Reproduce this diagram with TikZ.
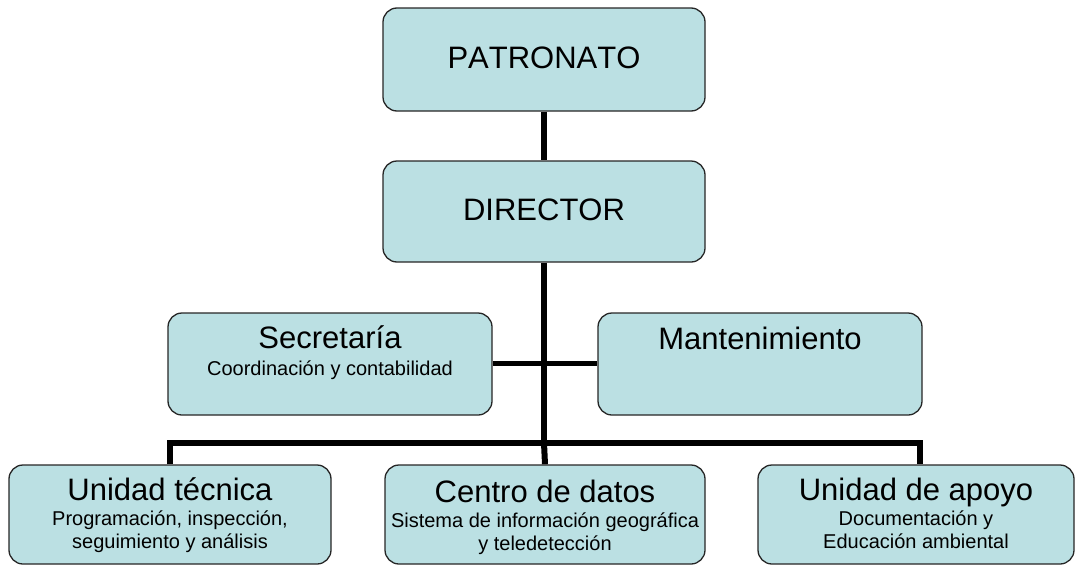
\documentclass[tikz,border=0pt]{standalone}
\usepackage{fontspec}
\setmainfont[Kerning=Off]{Liberation Sans}
\usetikzlibrary{backgrounds}
\definecolor{boxfill}{HTML}{BBE0E3}
\tikzset{
  unit/.style={draw=black!85, line width=1.3pt, fill=boxfill, rounded corners=14pt, inner sep=0pt},
  title/.style={font=\fontsize{31}{36}\selectfont, anchor=base, inner sep=0pt},
  sub/.style={font=\fontsize{20}{23}\selectfont, anchor=base, inner sep=0pt, align=center},
  trunk/.style={line width=6pt},
  side/.style={line width=5pt}
}
\begin{document}
\begin{tikzpicture}[x=1pt,y=-1pt]
\useasboundingbox (0,0) rectangle (1076,565);
% boxes
\node[unit, minimum width=322pt, minimum height=103pt] (pat) at (544,59.5) {};
\node[unit, minimum width=322pt, minimum height=101pt] (dir) at (544,211.5) {};
\node[unit, minimum width=324pt, minimum height=102pt] (sec) at (330,364) {};
\node[unit, minimum width=324pt, minimum height=102pt] (man) at (760,364) {};
\node[unit, minimum width=322pt, minimum height=99pt] (ut) at (170,514.5) {};
\node[unit, minimum width=320pt, minimum height=99pt] (cd) at (545,514.5) {};
\node[unit, minimum width=316pt, minimum height=99pt] (ua) at (916,514.5) {};
% connectors
\coordinate (bar) at (544,443);
\coordinate (barL) at (170,443);
\coordinate (barR) at (920,443);
\coordinate (mid) at (544,363);
\begin{scope}[on background layer]
\draw[trunk] (pat.south) -- (dir.north);
\draw[trunk] (dir.south) -- (bar);
\draw[trunk, line join=miter] (ut.north) -- (barL) -- (barR) -- (barR |- ua.north);
\draw[trunk] (bar) -- (cd.north);
\draw[side] (sec.east |- mid) -- (man.west |- mid);
\end{scope}
% texts
\node[title] (patt) at (544,68) {PATRONATO};
\node[title] (dirt) at (544,220) {DIRECTOR};
\node[title] (sect) at (330,348) {Secretaría};
\node[sub] (secs) at (330,375) {Coordinación y contabilidad};
\node[title] (mant) at (760,349) {Mantenimiento};
\node[title] (utt) at (170,500) {Unidad técnica};
\node[sub] (uts) at (170,548) {Programación, inspección,\\seguimiento y análisis};
\node[title] (cdt) at (545,502) {Centro de datos};
\node[sub] (cds) at (545,550) {Sistema de información geográfica\\y teledetección};
\node[title] (uat) at (916,500) {Unidad de apoyo};
\node[sub] (uas) at (916,548) {Documentación y\\Educación ambiental};
\end{tikzpicture}
\end{document}
